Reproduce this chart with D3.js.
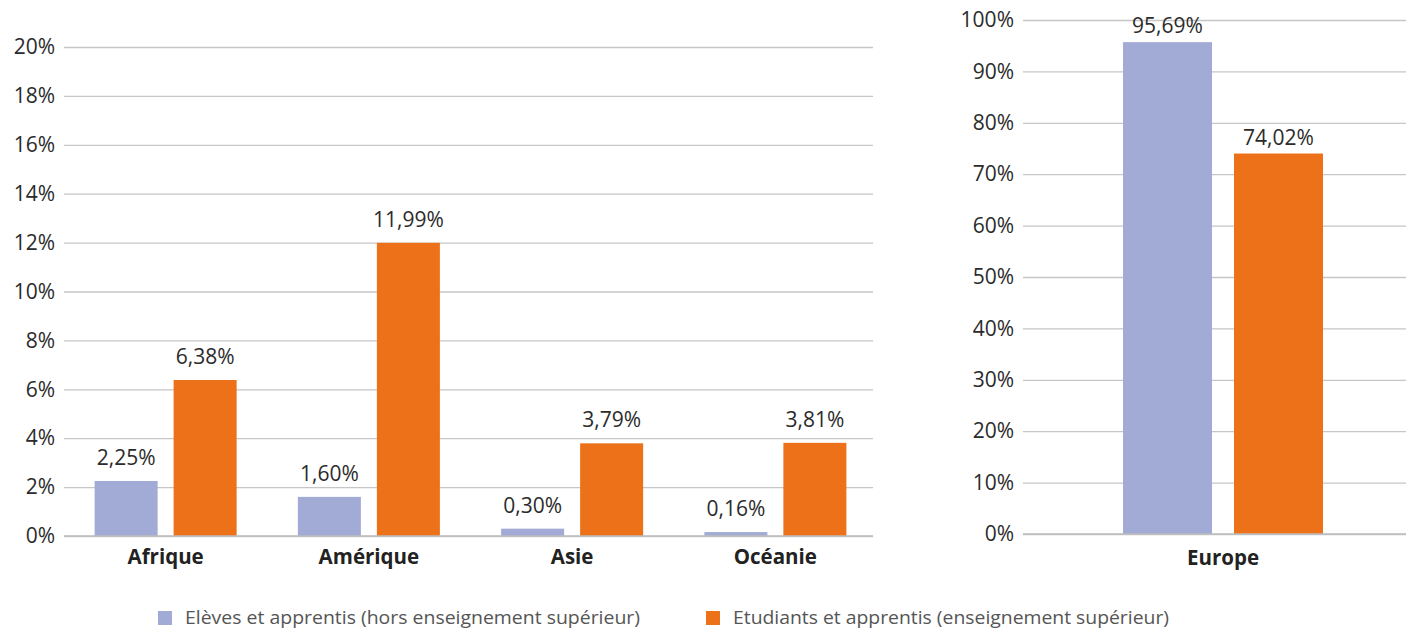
<!DOCTYPE html>
<html>
<head>
<meta charset="utf-8">
<script src="https://cdn.jsdelivr.net/npm/d3@7"></script>
<style>
  body { margin: 0; background: #fff; }
  svg text { font-family: "Open Sans", sans-serif; }
</style>
</head>
<body>
<svg id="chart" width="1406" height="633"></svg>
<script>
// ---------------------- DATA ----------------------
const regions = ["Afrique", "Amérique", "Asie", "Océanie"];
const elevesRegions = [2.25, 1.60, 0.30, 0.16];
const etudiantsRegions = [6.38, 11.99, 3.79, 3.81];

const europe = ["Europe"];
const elevesEurope = [95.69];
const etudiantsEurope = [74.02];

const leftTicks = [0, 2, 4, 6, 8, 10, 12, 14, 16, 18, 20];
const rightTicks = [0, 10, 20, 30, 40, 50, 60, 70, 80, 90, 100];

const seriesNames = ["Elèves et apprentis (hors enseignement supérieur)", "Etudiants et apprentis (enseignement supérieur)"];
const seriesColors = ["#a2aad6", "#ec7118"];

// French number formatting (comma decimal)
const fr = d3.formatLocale({decimal: ",", thousands: " ", grouping: [3], currency: ["", " €"]});
const fmtValue = v => fr.format(".2f")(v) + "%";

const svg = d3.select("#chart");

// ---------------------- PANEL RENDERER ----------------------
function drawPanel(opts) {
    const {cats, values, ticks, x0, x1, gridEnd, yTop, yBottom, barWidth, barGap, labelOffset, catOffset} = opts;
    const g = svg.append("g");

    const y = d3.scaleLinear().domain([0, ticks[ticks.length - 1]]).range([yBottom, yTop]);
    const x = d3.scaleBand().domain(cats).range([x0, x1]);

    // gridlines + tick labels through a left axis
    const axis = d3.axisLeft(y).tickValues(ticks).tickFormat(d => d + "%")
        .tickSize(-(gridEnd - x0)).tickPadding(9);
    const ax = g.append("g").attr("transform", `translate(${x0},0)`).call(axis);
    ax.select(".domain").remove();
    ax.selectAll(".tick line").attr("stroke", "#c6c6c6").attr("stroke-width", 1.3);
    ax.selectAll(".tick text").attr("fill", "#2b2b2b").style("font-size", "21px");

    // bars: one group per category, series side by side
    const inner = d3.scaleBand().domain([0, 1])
        .range([-(barWidth + barGap / 2), barWidth + barGap / 2]).paddingInner(barGap / (barWidth + barGap));

    cats.forEach((cat, i) => {
        const cx = x(cat) + x.bandwidth() / 2;
        values.forEach((serie, s) => {
            const v = serie[i];
            const bx = cx + inner(s);
            g.append("rect")
                .attr("x", bx)
                .attr("y", y(v))
                .attr("width", inner.bandwidth())
                .attr("height", y(0) - y(v))
                .attr("fill", seriesColors[s]);
            g.append("text")
                .attr("x", bx + inner.bandwidth() / 2)
                .attr("y", y(v) - labelOffset)
                .attr("text-anchor", "middle")
                .attr("fill", "#2b2b2b")
                .style("font-size", "21px")
                .text(fmtValue(v));
        });
        g.append("text")
            .attr("x", cx)
            .attr("y", yBottom + catOffset)
            .attr("text-anchor", "middle")
            .attr("fill", "#222")
            .style("font-size", "20.5px")
            .style("font-weight", "bold")
            .text(cat);
    });

    // baseline on top of bars
    g.append("line")
        .attr("x1", x0).attr("x2", gridEnd)
        .attr("y1", y(0)).attr("y2", y(0))
        .attr("stroke", "#bdbdbd").attr("stroke-width", 1.6);
}

drawPanel({
    cats: regions,
    values: [elevesRegions, etudiantsRegions],
    ticks: leftTicks,
    x0: 64, x1: 877, gridEnd: 873,
    yTop: 47, yBottom: 536,
    barWidth: 63, barGap: 16,
    labelOffset: 16, catOffset: 28
});

drawPanel({
    cats: europe,
    values: [elevesEurope, etudiantsEurope],
    ticks: rightTicks,
    x0: 1023, x1: 1423, gridEnd: 1406,
    yTop: 20, yBottom: 534,
    barWidth: 89, barGap: 22,
    labelOffset: 9, catOffset: 31
});

// ---------------------- LEGEND ----------------------
const legendX = [158, 706];
const legendW = [455, 436];
const legend = svg.append("g");
seriesNames.forEach((name, i) => {
    legend.append("rect")
        .attr("x", legendX[i]).attr("y", 611)
        .attr("width", 14).attr("height", 14)
        .attr("fill", seriesColors[i]);
    legend.append("text")
        .attr("x", legendX[i] + 27).attr("y", 624)
        .attr("fill", "#555")
        .style("font-family", "'Liberation Sans Narrow', 'Open Sans', sans-serif")
        .style("font-size", "18px")
        .attr("textLength", legendW[i])
        .attr("lengthAdjust", "spacingAndGlyphs")
        .text(name);
});
</script>
</body>
</html>
